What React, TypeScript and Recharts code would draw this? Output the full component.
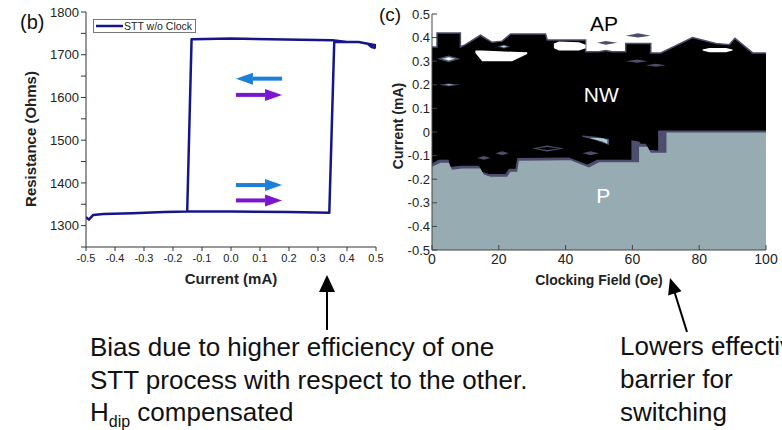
import React from 'react';
import {
  LineChart,
  Line,
  XAxis,
  YAxis,
  ReferenceLine,
  Legend,
  ComposedChart,
  Area,
  ReferenceDot,
} from 'recharts';

const FONT = '"Liberation Sans", Arial, Helvetica, sans-serif';
const NAVY = '#16168a';
const AXIS = '#333';
const SLATE = '#4d4d6d';
const P_GREY = '#96acb2';
const CYAN = '#b0cdd1';

// ---------- (b) STT loop without clock ----------
const loopCurrent = [
  -0.5, -0.49, -0.475, -0.44, -0.34, -0.23, -0.151, -0.136, -0.13, 0.0, 0.24, 0.35, 0.4, 0.44, 0.47,
  0.485, 0.495, 0.5, 0.44, 0.356, 0.339, 0.2, 0.0, -0.151,
];
const loopResistance = [
  1320, 1314, 1325, 1327, 1329, 1332, 1333, 1736, 1736, 1738, 1735, 1734, 1730, 1730, 1726,
  1718, 1716, 1722, 1730, 1730, 1330, 1332, 1333, 1333,
];
const currentTicksB = [-0.5, -0.4, -0.3, -0.2, -0.1, 0, 0.1, 0.2, 0.3, 0.4, 0.5];
const resistanceTicks = [1250, 1300, 1350, 1400, 1450, 1500, 1550, 1600, 1650, 1700, 1750, 1800];

// switching direction arrows drawn inside the loop
const arrowFrom = [0.176, 0.017, 0.017, 0.017];
const arrowTo = [0.017, 0.176, 0.176, 0.176];
const arrowLevel = [1644, 1606, 1395, 1359];
const ARROW_COLORS = ['#1c80d6', '#7a16d0', '#1c80d6', '#7a16d0'];

const loopData = loopCurrent.map((c, i) => ({ current: c, resistance: loopResistance[i] }));

// ---------- (c) state map vs clocking field ----------
const fieldTicks = [0, 20, 40, 60, 80, 100];
const currentTicksC = [-0.5, -0.4, -0.3, -0.2, -0.1, 0, 0.1, 0.2, 0.3, 0.4, 0.5];

// upper edge of the NW (black) region
const nwField = [0, 1.5, 1.5, 8.5, 8.5, 10, 14.5, 18, 21, 23.5, 34, 34.5, 46, 46, 50, 52, 54, 58, 58, 65.5, 65.5, 68.5, 78, 85, 89, 90.7, 93, 96, 100];
const nwTop = [0.36, 0.36, 0.42, 0.42, 0.36, 0.37, 0.41, 0.38, 0.385, 0.415, 0.415, 0.39, 0.39, 0.34, 0.34, 0.345, 0.34, 0.34, 0.375, 0.375, 0.335, 0.335, 0.4, 0.375, 0.37, 0.397, 0.37, 0.335, 0.335];

// intermediate contour between NW and P
const edgeField = [0, 2, 5, 5.5, 8.5, 14, 15, 17, 22, 23, 25, 25.5, 41, 46.5, 49.5, 59.7, 59.7, 62, 62.5, 64, 65, 67.7, 67.7, 100];
const edgeTop = [-0.133, -0.118, -0.118, -0.148, -0.143, -0.143, -0.168, -0.178, -0.178, -0.156, -0.156, -0.11, -0.108, -0.138, -0.118, -0.118, -0.035, -0.04, -0.05, -0.05, -0.075, -0.078, 0.006, 0.006];

// upper edge of the P region
const pField = [0, 2.5, 5, 6, 9, 14.5, 15.5, 17.5, 22.5, 23.5, 25.5, 26, 41.5, 47, 50, 62, 62, 64.5, 65.5, 70.2, 70.2, 100];
const pTop = [-0.147, -0.13, -0.13, -0.16, -0.155, -0.155, -0.18, -0.19, -0.19, -0.168, -0.168, -0.122, -0.12, -0.15, -0.128, -0.128, -0.062, -0.062, -0.088, -0.088, -0.002, -0.002];

// small closed contours (islands / pockets)
const islands = [
  { level: 'ap', x: [13, 15, 24, 28.5], lo: [0.335, 0.3, 0.3, 0.33], hi: [0.345, 0.345, 0.34, 0.338] },
  { level: 'ap', x: [36.5, 38, 44, 46], lo: [0.355, 0.345, 0.345, 0.355], hi: [0.375, 0.383, 0.38, 0.37] },
  { level: 'ap', x: [81, 83, 88, 90], lo: [0.345, 0.338, 0.338, 0.345], hi: [0.35, 0.356, 0.356, 0.35] },
  { level: 'edge', x: [1.5, 5, 8.5], lo: [0.31, 0.296, 0.31], hi: [0.31, 0.324, 0.31] },
  { level: 'rim', x: [3, 5, 7], lo: [0.31, 0.302, 0.31], hi: [0.31, 0.318, 0.31] },
  { level: 'ap', x: [4, 5, 6], lo: [0.31, 0.305, 0.31], hi: [0.31, 0.315, 0.31] },
  { level: 'edge', x: [2, 5, 8.5], lo: [0.2, 0.194, 0.2], hi: [0.2, 0.206, 0.2] },
  { level: 'rim', x: [4, 5, 6.5], lo: [0.2, 0.198, 0.2], hi: [0.2, 0.202, 0.2] },
  { level: 'edge', x: [19.5, 21.5, 23.5], lo: [0.362, 0.354, 0.362], hi: [0.362, 0.37, 0.362] },
  { level: 'rim', x: [20.5, 21.5, 22.5], lo: [0.362, 0.358, 0.362], hi: [0.362, 0.366, 0.362] },
  { level: 'edge', x: [49.5, 52, 55.5], lo: [0.378, 0.37, 0.378], hi: [0.378, 0.386, 0.378] },
  { level: 'edge', x: [58, 61.7, 65.5], lo: [0.408, 0.4, 0.408], hi: [0.408, 0.418, 0.408] },
  { level: 'edge', x: [58, 61.5, 64.5], lo: [0.3, 0.293, 0.3], hi: [0.3, 0.307, 0.3] },
  { level: 'edge', x: [64, 67, 70], lo: [0.283, 0.277, 0.283], hi: [0.283, 0.289, 0.283] },
  { level: 'edge', x: [13.5, 15.5, 17.5], lo: [-0.11, -0.118, -0.11], hi: [-0.11, -0.102, -0.11] },
  { level: 'edge', x: [19, 21, 23], lo: [-0.09, -0.098, -0.09], hi: [-0.09, -0.082, -0.09] },
  { level: 'edge', x: [30, 34.5, 39.5], lo: [-0.07, -0.083, -0.07], hi: [-0.07, -0.057, -0.07] },
  { level: 'nw', x: [31.5, 34.5, 38], lo: [-0.07, -0.076, -0.07], hi: [-0.07, -0.064, -0.07] },
  { level: 'edge', x: [45, 47.5, 50], lo: [-0.09, -0.098, -0.09], hi: [-0.09, -0.082, -0.09] },
  { level: 'edge', x: [45, 49, 53], lo: [-0.02, -0.035, -0.055], hi: [-0.015, -0.02, -0.03] },
  { level: 'rim', x: [47.5, 51, 52.5], lo: [-0.027, -0.04, -0.05], hi: [-0.024, -0.026, -0.033] },
];
const LEVEL_FILL: Record<string, string> = { ap: '#ffffff', edge: SLATE, rim: CYAN, nw: '#000000' };

const regionLabels = [
  { name: 'AP', field: 51.5, current: 0.46 },
  { name: 'NW', field: 50.7, current: 0.157 },
  { name: 'P', field: 51.3, current: -0.269 },
];
const LABEL_FILL: Record<string, string> = { AP: '#000', NW: '#fff', P: '#fff' };

const nwData = nwField.map((f, i) => ({ field: f, current: nwTop[i] }));
const edgeData = edgeField.map((f, i) => ({ field: f, current: edgeTop[i] }));
const pData = pField.map((f, i) => ({ field: f, current: pTop[i] }));
const islandData = islands.map((isl) => isl.x.map((f, i) => ({ field: f, band: [isl.lo[i], isl.hi[i]] })));

const DirArrow = (props: any) => {
  const { x1, y1, x2, y2, color } = props;
  const dir = Math.sign(x2 - x1) || 1;
  const bx = x2 - dir * 17;
  return (
    <g>
      <line x1={x1} y1={y1} x2={bx} y2={y2} stroke={color} strokeWidth={4} />
      <polygon points={`${x2},${y2} ${bx},${y2 - 6} ${bx},${y2 + 6}`} fill={color} />
    </g>
  );
};

const VerticalTitle = ({ text, x, y, size }: { text: string; x: number; y: number; size: number }) => (
  <text
    x={x}
    y={y}
    transform={`rotate(-90 ${x} ${y})`}
    textAnchor="middle"
    dominantBaseline="central"
    fontSize={size}
    fontWeight="bold"
    fill="#222"
    fontFamily={FONT}
  >
    {text}
  </text>
);

const LegendBox = () => (
  <div
    style={{
      display: 'flex',
      alignItems: 'center',
      height: 12,
      border: '1px solid #777',
      background: '#fff',
      padding: '0 3px 0 2px',
      fontFamily: FONT,
      fontSize: 10.5,
      color: '#222',
      lineHeight: '12px',
      whiteSpace: 'nowrap',
    }}
  >
    <svg width={27} height={6} style={{ marginRight: 1 }}>
      <line x1={0} y1={3} x2={27} y2={3} stroke={NAVY} strokeWidth={2.5} />
    </svg>
    STT w/o Clock
  </div>
);

function LoopPanel() {
  return (
    <LineChart width={390} height={290} data={loopData} margin={{ top: 12, right: 14, bottom: 0, left: 0 }}>
      <XAxis
        type="number"
        dataKey="current"
        domain={[-0.5, 0.5]}
        ticks={currentTicksB}
        interval={0}
        allowDataOverflow
        height={43}
        tickSize={4}
        tickMargin={3}
        tickFormatter={(v: number) => v.toFixed(1)}
        tick={{ fontSize: 11, fill: '#222' }}
        axisLine={{ stroke: AXIS }}
        tickLine={{ stroke: AXIS }}
        label={{ value: 'Current (mA)', position: 'insideBottom', offset: 6, fontSize: 15, fontWeight: 'bold', fill: '#222' }}
      />
      <XAxis
        xAxisId="top"
        orientation="top"
        type="number"
        dataKey="current"
        domain={[-0.5, 0.5]}
        ticks={currentTicksB}
        interval={0}
        allowDataOverflow
        height={0}
        tickSize={-3}
        tickFormatter={() => ''}
        axisLine={{ stroke: AXIS }}
        tickLine={{ stroke: AXIS }}
      />
      <YAxis
        type="number"
        domain={[1250, 1800]}
        ticks={resistanceTicks}
        interval={0}
        allowDataOverflow
        width={86}
        tickSize={5}
        tickMargin={2}
        tickFormatter={(v: number) => (v % 100 === 0 ? String(v) : '')}
        tick={{ fontSize: 13, fill: '#222' }}
        axisLine={{ stroke: AXIS }}
        tickLine={{ stroke: AXIS }}
        label={{ content: () => <VerticalTitle text="Resistance (Ohms)" x={30} y={139} size={15} /> }}
      />
      <YAxis
        yAxisId="right"
        orientation="right"
        type="number"
        domain={[1250, 1800]}
        ticks={resistanceTicks}
        interval={0}
        allowDataOverflow
        width={0}
        tickSize={-3}
        tickFormatter={() => ''}
        axisLine={{ stroke: AXIS }}
        tickLine={{ stroke: AXIS }}
      />
      <Line
        type="linear"
        dataKey="resistance"
        stroke={NAVY}
        strokeWidth={2.5}
        dot={false}
        activeDot={false}
        isAnimationActive={false}
        strokeLinejoin="round"
      />
      {arrowFrom.map((f, i) => (
        <ReferenceLine
          key={`dir-${i}`}
          segment={[
            { x: f, y: arrowLevel[i] },
            { x: arrowTo[i], y: arrowLevel[i] },
          ]}
          shape={(p: any) => <DirArrow {...p} color={ARROW_COLORS[i]} />}
        />
      ))}
      <Legend
        layout="vertical"
        align="center"
        verticalAlign="middle"
        wrapperStyle={{ left: 93, top: 19, width: 'auto', height: 'auto' }}
        content={() => <LegendBox />}
      />
    </LineChart>
  );
}

function StateMapPanel() {
  const frame = '#444';
  return (
    <ComposedChart width={412} height={290} margin={{ top: 14, right: 16, bottom: 0, left: 0 }}>
      <XAxis
        type="number"
        dataKey="field"
        domain={[0, 100]}
        ticks={fieldTicks}
        interval={0}
        allowDataOverflow
        height={40}
        tickSize={-5}
        tickMargin={9}
        tick={{ fontSize: 14, fill: '#222' }}
        axisLine={{ stroke: frame }}
        tickLine={{ stroke: frame }}
        label={{ value: 'Clocking Field (Oe)', position: 'insideBottom', offset: 5, fontSize: 14, fontWeight: 'bold', fill: '#222' }}
      />
      <XAxis
        xAxisId="top"
        orientation="top"
        type="number"
        dataKey="field"
        domain={[0, 100]}
        ticks={fieldTicks}
        interval={0}
        allowDataOverflow
        height={0}
        tickSize={-5}
        tickFormatter={() => ''}
        axisLine={{ stroke: frame }}
        tickLine={{ stroke: frame }}
      />
      <YAxis
        type="number"
        dataKey="current"
        domain={[-0.5, 0.5]}
        ticks={currentTicksC}
        interval={0}
        allowDataOverflow
        width={62}
        tickSize={-5}
        tickMargin={7}
        tickFormatter={(v: number) => (v === 0 ? '0' : v.toFixed(1))}
        tick={{ fontSize: 13, fill: '#222' }}
        axisLine={{ stroke: frame }}
        tickLine={{ stroke: frame }}
        label={{ content: () => <VerticalTitle text="Current (mA)" x={28} y={126} size={14} /> }}
      />
      <YAxis
        yAxisId="right"
        orientation="right"
        type="number"
        domain={[-0.5, 0.5]}
        ticks={currentTicksC}
        interval={0}
        allowDataOverflow
        width={0}
        tickSize={-5}
        tickFormatter={() => ''}
        axisLine={{ stroke: frame }}
        tickLine={{ stroke: frame }}
      />
      <Area
        data={nwData}
        type="linear"
        dataKey="current"
        baseValue={-0.5}
        fill="#000"
        fillOpacity={1}
        stroke={SLATE}
        strokeWidth={1.5}
        dot={false}
        activeDot={false}
        isAnimationActive={false}
      />
      <Area
        data={edgeData}
        type="linear"
        dataKey="current"
        baseValue={-0.5}
        fill={SLATE}
        fillOpacity={1}
        stroke="none"
        dot={false}
        activeDot={false}
        isAnimationActive={false}
      />
      <Area
        data={pData}
        type="linear"
        dataKey="current"
        baseValue={-0.5}
        fill={P_GREY}
        fillOpacity={1}
        stroke="none"
        dot={false}
        activeDot={false}
        isAnimationActive={false}
      />
      {islandData.map((rows, k) => (
        <Area
          key={`isl-${k}`}
          data={rows}
          type="linear"
          dataKey="band"
          fill={LEVEL_FILL[islands[k].level]}
          fillOpacity={1}
          stroke="none"
          dot={false}
          activeDot={false}
          isAnimationActive={false}
        />
      ))}
      {regionLabels.map((r) => (
        <ReferenceDot
          key={r.name}
          x={r.field}
          y={r.current}
          r={0}
          fill="none"
          stroke="none"
          label={{ value: r.name, position: 'center', fontSize: 21, fill: LABEL_FILL[r.name] }}
        />
      ))}
    </ComposedChart>
  );
}

export default function App() {
  return (
    <div
      style={{
        position: 'absolute',
        left: 0,
        top: 0,
        width: 782,
        height: 430,
        overflow: 'hidden',
        background: '#fff',
        fontFamily: FONT,
      }}
    >
      <div style={{ position: 'absolute', left: 0, top: 0 }}>
        <LoopPanel />
      </div>
      <div style={{ position: 'absolute', left: 370, top: 0 }}>
        <StateMapPanel />
      </div>
      <svg
        width={782}
        height={430}
        style={{ position: 'absolute', left: 0, top: 0, pointerEvents: 'none' }}
        fontFamily={FONT}
        fill="#111"
      >
        <text x={20} y={29} fontSize={20}>(b)</text>
        <text x={379} y={21} fontSize={19}>(c)</text>

        <line x1={327} y1={330} x2={327} y2={289} stroke="#000" strokeWidth={2} />
        <polygon points="327,275 319,292 335,292" fill="#000" />
        <line x1={687} y1={332} x2={674.5} y2={292} stroke="#000" strokeWidth={2} />
        <polygon points="670,278 681.5,291.2 668.1,295.4" fill="#000" />

        <text x={90} y={356} fontSize={26}>Bias due to higher efficiency of one</text>
        <text x={90} y={389} fontSize={26}>STT process with respect to the other.</text>
        <text x={90} y={421} fontSize={26}>
          H<tspan dy={6} fontSize={16}>dip</tspan>
          <tspan dy={-6}> compensated</tspan>
        </text>
        <text x={620} y={355} fontSize={26}>Lowers effective</text>
        <text x={620} y={388} fontSize={26}>barrier for</text>
        <text x={620} y={421} fontSize={26}>switching</text>
      </svg>
    </div>
  );
}
